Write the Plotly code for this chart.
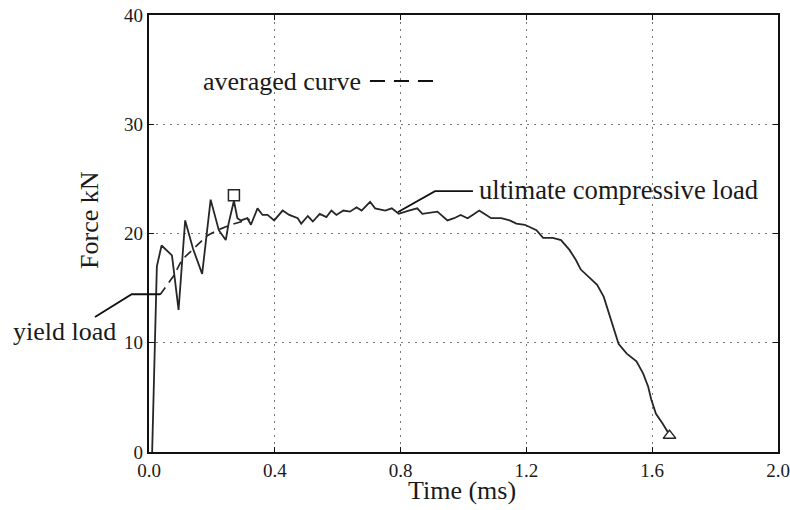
import plotly.graph_objects as go

# ---- data ----
time_ms = [0.010, 0.025, 0.040, 0.073, 0.094, 0.115, 0.140, 0.169, 0.196, 0.222,
           0.244, 0.253, 0.270, 0.281, 0.292, 0.313, 0.324, 0.345, 0.361, 0.377,
           0.398, 0.425, 0.446, 0.473, 0.484, 0.505, 0.521, 0.543, 0.564, 0.580,
           0.596, 0.618, 0.639, 0.660, 0.676, 0.703, 0.719, 0.751, 0.772, 0.794,
           0.826, 0.853, 0.869, 0.917, 0.949, 0.970, 0.991, 1.013, 1.029, 1.050,
           1.066, 1.088, 1.120, 1.147, 1.168, 1.195, 1.232, 1.253, 1.284, 1.310,
           1.337, 1.357, 1.373, 1.399, 1.425, 1.446, 1.462, 1.477, 1.493, 1.519,
           1.550, 1.571, 1.587, 1.597, 1.612, 1.633, 1.650]
force_kn = [0.0, 17.0, 18.9, 18.0, 13.0, 21.2, 18.6, 16.3, 23.1, 20.3,
            19.4, 20.9, 23.0, 21.4, 21.2, 21.4, 20.8, 22.3, 21.7, 21.7,
            21.2, 22.1, 21.7, 21.4, 20.9, 21.6, 21.1, 21.8, 21.5, 22.1,
            21.7, 22.1, 22.0, 22.4, 22.1, 22.9, 22.3, 22.1, 22.3, 21.8,
            22.1, 22.3, 21.8, 22.0, 21.2, 21.4, 21.7, 21.4, 21.7, 22.1,
            21.8, 21.4, 21.4, 21.2, 20.9, 20.8, 20.3, 19.6, 19.6, 19.4,
            18.5, 17.6, 16.7, 16.0, 15.3, 14.2, 12.7, 11.2, 9.9, 9.0,
            8.3, 7.2, 6.0, 4.8, 3.5, 2.6, 1.8]

avg_time = [0.035, 0.078, 0.105, 0.135, 0.185, 0.217, 0.260, 0.320]
avg_force = [14.4, 16.1, 17.6, 18.4, 19.8, 20.3, 20.8, 21.3]

peak_time = [0.270]
peak_force = [23.5]
end_time = [1.655]
end_force = [1.5]

x_ticks = [0.0, 0.4, 0.8, 1.2, 1.6, 2.0]
x_tick_labels = ["0.0", "0.4", "0.8", "1.2", "1.6", "2.0"]
y_ticks = [0, 10, 20, 30, 40]
y_tick_labels = ["0", "10", "20", "30", "40"]

# ---- style ----
FONT = "Liberation Serif"
TXT = "#1a1a1a"
LINE = "#262626"

fig = go.Figure()
fig.add_trace(go.Scatter(x=avg_time, y=avg_force, mode="lines",
                         line=dict(color=LINE, width=1.7, dash="9px,6px"),
                         hoverinfo="skip", showlegend=False))
fig.add_trace(go.Scatter(x=time_ms, y=force_kn, mode="lines",
                         line=dict(color=LINE, width=1.8),
                         showlegend=False))
fig.add_trace(go.Scatter(x=peak_time, y=peak_force, mode="markers",
                         marker=dict(symbol="square-open", size=11,
                                     color=LINE, line=dict(width=1.5)),
                         showlegend=False))
fig.add_trace(go.Scatter(x=end_time, y=end_force, mode="markers",
                         marker=dict(symbol="triangle-up-open", size=11,
                                     color=LINE, line=dict(width=1.5)),
                         showlegend=False))

axis_common = dict(showline=True, linewidth=2.2, linecolor="#111111", mirror="ticks",
                   ticks="inside", ticklen=5, tickwidth=1.2, tickcolor="#111111",
                   showgrid=True, gridcolor="#777777", gridwidth=1.3, griddash="2px,5px",
                   zeroline=False, automargin=False,
                   tickfont=dict(family=FONT, size=19, color=TXT))

fig.update_xaxes(range=[0, 2], tickvals=x_ticks, ticktext=x_tick_labels, **axis_common)
fig.update_yaxes(range=[0, 40], tickvals=y_ticks, ticktext=y_tick_labels, **axis_common)

shapes = [
    # yield load pointer
    dict(type="path", xref="paper", yref="paper",
         path="M -0.0859 0.309 L -0.0275 0.361 L 0.0175 0.361",
         line=dict(color="#111111", width=1.8)),
    # ultimate compressive load pointer
    dict(type="path", xref="paper", yref="paper",
         path="M 0.396 0.549 L 0.4547 0.597 L 0.515 0.597",
         line=dict(color="#111111", width=1.8)),
    # dashed legend sample
    dict(type="line", xref="paper", yref="paper", x0=0.3513, x1=0.4595, y0=0.849, y1=0.849,
         line=dict(color="#111111", width=2, dash="15px,9px")),
]

ANN = 26
annotations = [
    dict(text="yield load", xref="paper", yref="paper", x=-0.219, y=0.2746,
         xanchor="left", yanchor="middle", showarrow=False,
         font=dict(family=FONT, size=ANN, color=TXT)),
    dict(text="ultimate compressive load", xref="paper", yref="paper", x=0.522, y=0.5995,
         xanchor="left", yanchor="middle", showarrow=False,
         font=dict(family=FONT, size=26.6, color=TXT)),
    dict(text="averaged curve", xref="paper", yref="paper", x=0.082, y=0.8467,
         xanchor="left", yanchor="middle", showarrow=False,
         font=dict(family=FONT, size=ANN, color=TXT)),
    dict(text="Force kN", xref="paper", yref="paper", x=-0.0938, y=0.531,
         xanchor="center", yanchor="middle", showarrow=False, textangle=-90,
         font=dict(family=FONT, size=ANN, color=TXT)),
    dict(text="Time (ms)", xref="paper", yref="paper", x=0.4976, y=-0.087,
         xanchor="center", yanchor="middle", showarrow=False,
         font=dict(family=FONT, size=ANN, color=TXT)),
]

fig.update_layout(width=790, height=510, margin=dict(l=149, r=12, t=15, b=58),
                  paper_bgcolor="white", plot_bgcolor="white",
                  shapes=shapes, annotations=annotations, showlegend=False)

fig.write_html("out.html", config={"displayModeBar": False},
               post_script="document.body.style.margin='0';document.body.style.overflow='hidden';")
